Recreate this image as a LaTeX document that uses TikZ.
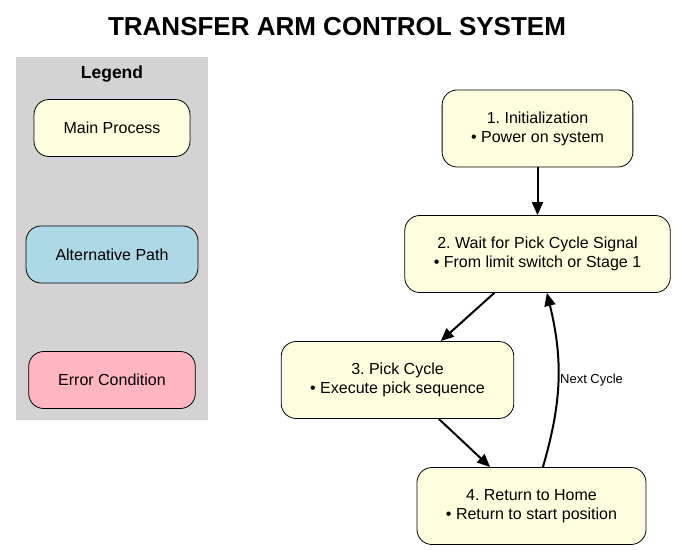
\documentclass[tikz,border=0pt]{standalone}
\usepackage{fontspec}
\setmainfont{Liberation Sans}
\usetikzlibrary{arrows.meta}
\frenchspacing

\definecolor{mainyellow}{HTML}{FFFFE0}
\definecolor{altblue}{HTML}{ADD8E6}
\definecolor{errpink}{HTML}{FFB6C1}
\definecolor{legendgray}{HTML}{D3D3D3}

\begin{document}
\begin{tikzpicture}[x=1pt,y=-1pt,
    stage/.style={draw=black, thick, fill=mainyellow, rounded corners=15pt, align=center,
        inner xsep=29pt, minimum height=77pt, font=\fontsize{16}{19}\selectfont},
    key/.style={draw=black, thick, rounded corners=15pt, inner xsep=29.5pt,
        minimum height=57pt, font=\fontsize{16}{19}\selectfont},
    flow/.style={-{Triangle[length=13pt,width=11pt]}, line width=2pt}]
    % Page frame
    \useasboundingbox[fill=white] (0,0) rectangle (674,549);

    % Title
    \node[font=\fontsize{26}{30}\selectfont\bfseries] (title) at (337,26.5) {TRANSFER ARM CONTROL SYSTEM};

    % Legend panel
    \fill[legendgray] (16,57) rectangle (208,420);
    \node[font=\fontsize{17.5}{20}\selectfont\bfseries] (legend) at (112,74) {Legend};
    \foreach \n/\y/\c/\t in {1/128/mainyellow/Main Process,
                             2/254.5/altblue/Alternative Path,
                             3/380/errpink/Error Condition}
        \node[key, fill=\c] (key\n) at (112,\y) {\t};

    % Process steps
    \node[stage] (init) at (537.5,128.5) {1. Initialization\\• Power on system};
    \node[stage] (wait) at (537.5,254) {2. Wait for Pick Cycle Signal\\• From limit switch or Stage 1};
    \node[stage] (pick) at (397.5,380) {3. Pick Cycle\\• Execute pick sequence};
    \node[stage] (home) at (531.5,506) {4. Return to Home\\• Return to start position};

    % Transitions
    \draw[flow] (init) -- (wait);
    \draw[flow] (wait) -- (pick);
    \draw[flow] (pick) -- (home);
    \draw[flow] (home) to[bend right=15]
        node[midway, anchor=west, inner sep=1pt, font=\fontsize{13}{15}\selectfont] (next) {Next Cycle} (wait);

\end{tikzpicture}
\end{document}
